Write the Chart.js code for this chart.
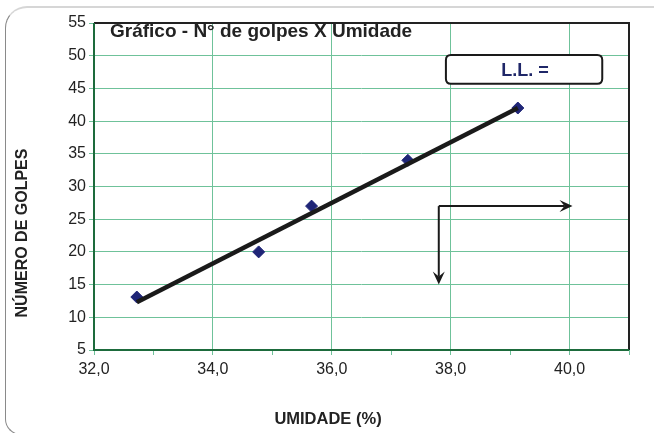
<!DOCTYPE html>
<html>
<head>
<meta charset="utf-8">
<script src="https://cdn.jsdelivr.net/npm/chart.js@4.4.1/dist/chart.umd.min.js"></script>
<style>
  html, body { margin: 0; padding: 0; background: #fff; overflow: hidden; }
  #wrap { position: relative; width: 654px; height: 433px; overflow: hidden; }
  #frame { position: absolute; left: 5px; top: 6px; width: 700px; height: 429px;
           border-left: 1px solid #8a8a8a; border-top: 2px solid #d6d6d6; border-bottom: 1px solid #8a8a8a;
           border-top-left-radius: 22px; border-bottom-left-radius: 16px; box-sizing: border-box; }
  canvas { position: absolute; left: 0; top: 0; }
</style>
</head>
<body>
<div id="wrap">
  <div id="frame"></div>
  <canvas id="c" width="654" height="433"></canvas>
</div>
<script>
// Data
const umidade = [32.72, 34.77, 35.66, 37.28, 39.13];
const golpes  = [13.1, 20.0, 27.0, 34.0, 42.0];
const trendX  = [32.72, 39.13];
const trendY  = [12.3, 42.0];
const arrowCorner = [37.8, 27];
const arrowHTip   = [40.05, 27];
const arrowVTip   = [37.8, 15];
const llBox = [37.92, 50.1, 40.55, 45.7]; // x1, y1, x2, y2
const chartTitle = 'Gráfico - N° de golpes X Umidade';
const llText = 'L.L. =';
const xTitle = 'UMIDADE (%)';
const yTitle = 'NÚMERO DE GOLPES';

const FONT = '"Liberation Sans", Arial, sans-serif';
const GRID = '#6fc29a';

const pts = umidade.map((x, i) => ({ x, y: golpes[i] }));
const trend = trendX.map((x, i) => ({ x, y: trendY[i] }));

function roundRect(ctx, x, y, w, h, r) {
  ctx.beginPath();
  ctx.moveTo(x + r, y);
  ctx.lineTo(x + w - r, y);
  ctx.quadraticCurveTo(x + w, y, x + w, y + r);
  ctx.lineTo(x + w, y + h - r);
  ctx.quadraticCurveTo(x + w, y + h, x + w - r, y + h);
  ctx.lineTo(x + r, y + h);
  ctx.quadraticCurveTo(x, y + h, x, y + h - r);
  ctx.lineTo(x, y + r);
  ctx.quadraticCurveTo(x, y, x + r, y);
  ctx.closePath();
}

function arrow(ctx, x1, y1, x2, y2) {
  const ang = Math.atan2(y2 - y1, x2 - x1);
  const L = 13, W = 6;
  ctx.beginPath();
  ctx.moveTo(x1, y1);
  ctx.lineTo(x2 - Math.cos(ang) * 8, y2 - Math.sin(ang) * 8);
  ctx.stroke();
  ctx.beginPath();
  ctx.moveTo(x2, y2);
  ctx.lineTo(x2 - L * Math.cos(ang) + W * Math.sin(ang), y2 - L * Math.sin(ang) - W * Math.cos(ang));
  ctx.lineTo(x2 - 8 * Math.cos(ang), y2 - 8 * Math.sin(ang));
  ctx.lineTo(x2 - L * Math.cos(ang) - W * Math.sin(ang), y2 - L * Math.sin(ang) + W * Math.cos(ang));
  ctx.closePath();
  ctx.fill();
}

const decor = {
  id: 'decor',
  beforeDatasetsDraw(chart) {
    const { ctx, chartArea: a } = chart;
    ctx.save();
    ctx.lineWidth = 2;
    ctx.strokeStyle = '#222';
    ctx.beginPath();
    ctx.moveTo(a.left, a.top); ctx.lineTo(a.right, a.top); ctx.lineTo(a.right, a.bottom);
    ctx.stroke();
    ctx.strokeStyle = '#1d6b3c';
    ctx.beginPath();
    ctx.moveTo(a.left, a.top); ctx.lineTo(a.left, a.bottom); ctx.lineTo(a.right, a.bottom);
    ctx.stroke();
    ctx.restore();
  },
  afterDatasetsDraw(chart) {
    const { ctx, chartArea: a, scales: { x, y } } = chart;
    ctx.save();
    ctx.strokeStyle = '#1a1a1a';
    ctx.fillStyle = '#1a1a1a';
    ctx.lineWidth = 2;
    const cx = x.getPixelForValue(arrowCorner[0]), cy = y.getPixelForValue(arrowCorner[1]);
    arrow(ctx, cx, cy, x.getPixelForValue(arrowHTip[0]), y.getPixelForValue(arrowHTip[1]));
    arrow(ctx, cx, cy, x.getPixelForValue(arrowVTip[0]), y.getPixelForValue(arrowVTip[1]));
    const bx1 = x.getPixelForValue(llBox[0]), by1 = y.getPixelForValue(llBox[1]);
    const bx2 = x.getPixelForValue(llBox[2]), by2 = y.getPixelForValue(llBox[3]);
    roundRect(ctx, bx1, by1, bx2 - bx1, by2 - by1, 5);
    ctx.fillStyle = '#fff';
    ctx.fill();
    ctx.lineWidth = 2;
    ctx.strokeStyle = '#1a1a1a';
    ctx.stroke();
    ctx.fillStyle = '#1f2768';
    ctx.font = 'bold 18px ' + FONT;
    ctx.textAlign = 'center';
    ctx.textBaseline = 'middle';
    ctx.fillText(llText, (bx1 + bx2) / 2 + 1, (by1 + by2) / 2 + 2);
    ctx.fillStyle = '#222';
    ctx.font = 'bold 19px ' + FONT;
    ctx.textAlign = 'left';
    ctx.fillText(chartTitle, 110, a.top + 9);
    ctx.font = 'bold 16.5px ' + FONT;
    ctx.textAlign = 'center';
    ctx.fillText(xTitle, 328, 419);
    ctx.font = 'bold 16px ' + FONT;
    ctx.translate(23, 233);
    ctx.rotate(-Math.PI / 2);
    ctx.fillText(yTitle, 0, 0);
    ctx.restore();
  }
};

new Chart(document.getElementById('c'), {
  type: 'scatter',
  data: {
    datasets: [
      { label: 'Tendência', data: trend, showLine: true, borderColor: '#1a1a1a', borderWidth: 4.5,
        pointRadius: 0, order: 0, borderCapStyle: 'butt' },
      { label: 'Golpes', data: pts, pointStyle: 'rectRot', pointRadius: 6,
        backgroundColor: '#1f2577', borderColor: '#1f2577', borderWidth: 1, order: 1 }
    ]
  },
  options: {
    responsive: false,
    animation: false,
    layout: { padding: { left: 0, top: 23, right: 25, bottom: 0 } },
    plugins: { legend: { display: false }, tooltip: { enabled: false } },
    scales: {
      x: {
        type: 'linear', min: 32, max: 41,
        border: { display: false },
        ticks: {
          stepSize: 1, autoSkip: false, color: '#222', padding: 5,
          font: { family: FONT, size: 16 },
          callback: v => (Math.round(v) % 2 === 0 && v <= 40) ? v.toFixed(1).replace('.', ',') : ''
        },
        grid: {
          color: c => (c.tick && Math.round(c.tick.value) % 2 === 0 && c.tick.value > 32 && c.tick.value < 41) ? GRID : 'transparent',
          tickColor: GRID, tickLength: 5, lineWidth: 1
        },
        afterFit: s => { s.height = 83; }
      },
      y: {
        type: 'linear', min: 5, max: 55,
        border: { display: false },
        ticks: { stepSize: 5, color: '#222', padding: 3, font: { family: FONT, size: 16 } },
        grid: {
          color: c => (c.tick && c.tick.value > 5 && c.tick.value < 55) ? GRID : 'transparent',
          tickColor: GRID, tickLength: 5, lineWidth: 1
        },
        afterFit: s => { s.width = 94; }
      }
    }
  },
  plugins: [decor]
});
</script>
</body>
</html>
